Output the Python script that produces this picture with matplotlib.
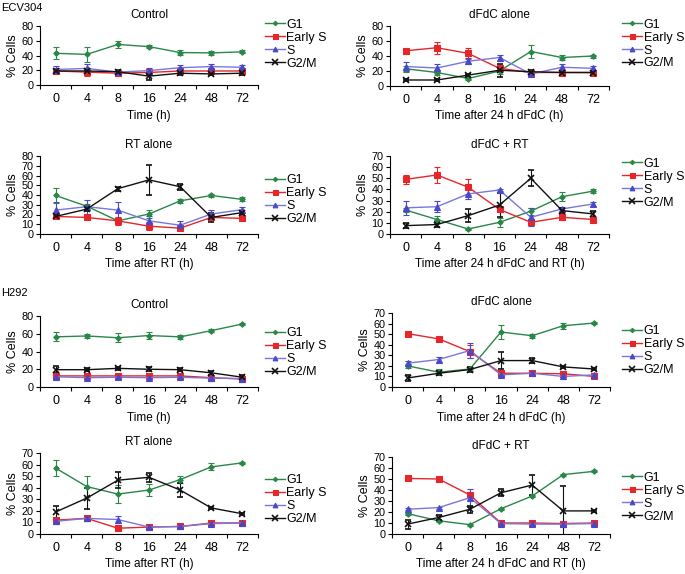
import matplotlib
matplotlib.use("Agg")
import matplotlib.pyplot as plt
from matplotlib.lines import Line2D

plt.rcParams["font.family"] = ["Liberation Sans", "DejaVu Sans"]
plt.rcParams["font.size"] = 8

times = ["0", "4", "8", "16", "24", "48", "72"]
phases = ["G1", "Early S", "S", "G2/M"]

# values, rows: G1, Early S, S, G2/M
ecv_control = [[43, 41.5, 55, 52, 44, 43.5, 45],
               [19, 17.5, 16, 17, 19, 19, 19],
               [21, 22.5, 17.5, 19.5, 23.5, 25, 24],
               [19, 19, 18, 12, 16, 15, 16]]
ecv_control_err = [[8, 10, 5, 2, 3, 3, 2],
                   [2, 5, 2, 2, 2, 2, 2],
                   [5, 6, 2, 4, 4, 3, 3],
                   [2, 2, 2, 5, 2, 2, 2]]

ecv_dfdc = [[23, 18, 10, 20, 46, 38, 40],
            [47, 51, 43.5, 23.5, 18, 18, 18],
            [26, 24, 33, 38, 16, 25, 23.5],
            [8, 8, 14.5, 21, 19, 18, 18]]
ecv_dfdc_err = [[4, 3, 2, 4, 9, 3, 2],
                [3, 8, 7, 3, 2, 2, 2],
                [6, 5, 4, 4, 3, 4, 3],
                [1, 1, 2, 9, 2, 2, 2]]

ecv_rt = [[39.5, 28.5, 13.5, 20.5, 34, 39.5, 35.5],
          [18, 17, 13.5, 8, 6, 17, 16],
          [24.5, 28, 24.5, 13.5, 9, 20.5, 25],
          [18, 25.5, 46.5, 55.5, 48.5, 17, 22]]
ecv_rt_err = [[8, 2, 2, 4, 2, 2, 2],
              [2, 2, 4, 4, 2, 2, 2],
              [8, 7, 8, 5, 4, 4, 3],
              [1, 2, 2, 15, 3, 5, 2]]

ecv_combo = [[21.5, 13, 4.5, 10.5, 20.5, 33.5, 38.5],
             [49, 53, 42, 22, 10.5, 15, 13],
             [23.5, 24.5, 36, 39.5, 15, 22.5, 27],
             [7.5, 8.5, 16.5, 26, 50, 21, 18]]
ecv_combo_err = [[2, 3, 1, 4, 3, 4, 2],
                 [4, 7, 7, 2, 2, 2, 2],
                 [6, 5, 5, 1, 8, 2, 2],
                 [2, 2, 6, 11, 7, 2, 3]]

h292_control = [[56.5, 57.5, 55.5, 58, 56.5, 63.5, 71],
                [12.5, 12.5, 12.5, 12.5, 12.5, 10.5, 9],
                [11.5, 10.5, 11, 10.5, 11, 10, 9.5],
                [19.5, 19.5, 21, 20, 19.5, 16, 11]]
h292_control_err = [[5, 2, 5, 4, 2, 2, 1],
                    [2, 2, 2, 2, 2, 2, 1],
                    [2, 2, 2, 2, 2, 1, 1],
                    [4, 2, 2, 2, 2, 2, 2]]

h292_dfdc = [[20, 14, 17, 52, 48.5, 58, 60.5],
             [50.5, 45.5, 33.5, 13, 13, 12.5, 10],
             [22.5, 26, 34.5, 11.5, 13, 10, 11.5],
             [8.5, 13, 16.5, 25, 25, 19, 17]]
h292_dfdc_err = [[2, 3, 2, 7, 2, 3, 1],
                 [1, 1, 6, 3, 1, 1, 1],
                 [2, 2, 7, 2, 1, 2, 2],
                 [3, 2, 2, 8, 2, 1, 1]]

h292_rt = [[57, 41, 34.5, 38, 47, 58, 61.5],
           [12, 13.5, 5, 6, 6.5, 9.5, 9.5],
           [11, 13.5, 12.5, 6, 6.5, 9, 9.5],
           [19, 31, 46.5, 49, 38, 22.5, 17.5]]
h292_rt_err = [[7, 9, 8, 5, 3, 3, 1],
               [2, 1, 1, 1, 1, 1, 1],
               [2, 2, 3, 1, 1, 1, 1],
               [5, 9, 7, 4, 6, 1, 1]]

h292_combo = [[18.5, 12, 8.5, 23, 34.5, 54, 57],
              [50.5, 50, 35.5, 10, 10, 9.5, 10],
              [22.5, 24, 33, 9.5, 9, 9, 9.5],
              [9, 15, 22.5, 37.5, 44.5, 21, 21]]
h292_combo_err = [[1, 1, 1, 1, 1, 1, 1],
                  [1, 1, 2, 2, 1, 1, 1],
                  [1, 1, 8, 2, 1, 1, 1],
                  [4, 2, 3, 3, 9, 23, 1]]

colors = ["#2a8748", "#e5262a", "#4848c8", "#111111"]
line_colors = ["#2a8748", "#e5262a", "#7878dc", "#111111"]
markers = ["D", "s", "^", "x"]
msizes = [2.8, 4.5, 4.2, 5]
mews = [0.8, 0.8, 0.8, 1.2]

# (title, xlabel, data, err, ymax, ystep, rect px [l, top, r, bottom], legend x px, legend y)
panels = [
    ("Control", "Time (h)", ecv_control, ecv_control_err, 80, 20, (40, 26, 258, 85), 265, 0.69),
    ("dFdC alone", "Time after 24 h dFdC (h)", ecv_dfdc, ecv_dfdc_err, 80, 20, (390, 26, 609, 86), 622, 0.70),
    ("RT alone", "Time after RT (h)", ecv_rt, ecv_rt_err, 80, 10, (40, 156, 258, 234), 265, 0.44),
    ("dFdC + RT", "Time after 24 h dFdC and RT (h)", ecv_combo, ecv_combo_err, 70, 10, (390, 156, 609, 234), 622, 0.65),
    ("Control", "Time (h)", h292_control, h292_control_err, 80, 20, (40, 316, 258, 387), 265, 0.48),
    ("dFdC alone", "Time after 24 h dFdC (h)", h292_dfdc, h292_dfdc_err, 70, 10, (392, 313, 610, 387), 622, 0.49),
    ("RT alone", "Time after RT (h)", h292_rt, h292_rt_err, 70, 10, (40, 453, 258, 534), 265, 0.42),
    ("dFdC + RT", "Time after 24 h dFdC and RT (h)", h292_combo, h292_combo_err, 70, 10, (392, 457, 610, 534), 622, 0.48),
]

W, H = 685, 574
fig = plt.figure(figsize=(W / 100, H / 100), dpi=100)

handles = [Line2D([], [], color=line_colors[i], marker=markers[i], markersize=msizes[i] * 0.8,
                  markerfacecolor=colors[i], markeredgecolor=colors[i],
                  markeredgewidth=mews[i], linewidth=1.0) for i in range(4)]

x = list(range(len(times)))
for title, xlabel, data, err, ymax, ystep, (l, t, r, b), lx, ly in panels:
    ax = fig.add_axes([l / W, 1 - b / H, (r - l) / W, (b - t) / H])
    for i in range(4):
        ax.errorbar(x, data[i], yerr=err[i], color=line_colors[i], ecolor=colors[i],
                    marker=markers[i], markersize=msizes[i], markerfacecolor=colors[i],
                    markeredgecolor=colors[i], markeredgewidth=mews[i],
                    linewidth=1.0, elinewidth=0.8, capsize=2.5, capthick=0.8)
    ax.set_xlim(-0.5, len(times) - 0.5)
    ax.set_ylim(0, ymax)
    ax.set_yticks(range(0, ymax + 1, ystep))
    ax.set_xticks([v - 0.5 for v in range(len(times) + 1)])
    ax.set_xticklabels([])
    ax.set_xticks(x, minor=True)
    ax.set_xticklabels(times, minor=True)
    ax.tick_params(axis="x", which="minor", length=0, pad=6, labelsize=9)
    ax.tick_params(axis="x", which="major", length=3, width=0.8)
    ax.tick_params(axis="y", length=3, width=0.8, pad=1.5, labelsize=7.8)
    for s in ["top", "right"]:
        ax.spines[s].set_visible(False)
    for s in ["left", "bottom"]:
        ax.spines[s].set_linewidth(0.8)
    ax.set_title(title, fontsize=8.5, pad=6)
    ax.set_xlabel(xlabel, fontsize=8.5, labelpad=3)
    ax.set_ylabel("% Cells", fontsize=9, labelpad=2)
    ax.legend(handles, phases, loc="center left",
              bbox_to_anchor=((lx - l) / (r - l), ly), frameon=False,
              fontsize=9, handlelength=1.6, handletextpad=0.12, labelspacing=0.08,
              borderaxespad=0, borderpad=0)

fig.text(1 / W, 1 - 8 / H, "ECV304", fontsize=8, va="center", ha="left")
fig.text(1 / W, 1 - 293 / H, "H292", fontsize=8, va="center", ha="left")

fig.savefig("out.png", dpi=100)
